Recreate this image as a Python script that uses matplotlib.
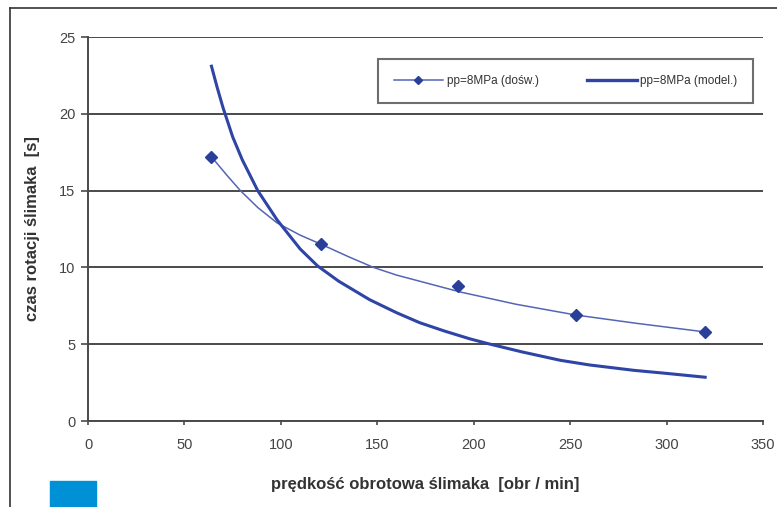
import numpy as np
import matplotlib.pyplot as plt
from matplotlib.lines import Line2D
from matplotlib.patches import Rectangle

plt.rcParams['font.family'] = ['Liberation Sans', 'DejaVu Sans']

# measured points (dośw.)
x_pts = [64, 121, 192, 253, 320]
y_pts = [17.2, 11.5, 8.8, 6.9, 5.8]

x_exp = [64, 72, 79, 88, 98, 110, 121, 135, 148, 160, 172, 193, 222, 253, 285, 320]
y_exp = [17.2, 16.0, 15.0, 13.9, 12.9, 12.1, 11.5, 10.7, 10.0, 9.5, 9.1, 8.4, 7.6, 6.9, 6.35, 5.8]

# model curve
x_mod = [64, 67, 70, 75, 80, 88, 98, 110, 119, 130, 146, 160, 172, 185, 198, 207, 225, 245, 260, 283, 300, 320]
y_mod = [23.1, 21.7, 20.4, 18.5, 17.0, 15.0, 13.1, 11.2, 10.1, 9.1, 7.9, 7.05, 6.4, 5.85, 5.35, 5.05, 4.5, 3.95, 3.65, 3.3, 3.1, 2.85]

xticks = [0, 50, 100, 150, 200, 250, 300, 350]
yticks = [0, 5, 10, 15, 20, 25]

fig = plt.figure(figsize=(7.77, 5.07), dpi=100)
ax = fig.add_axes([0.1133, 0.1696, 0.8687, 0.7574])

thin_c = '#5565B5'
thick_c = '#2E45A5'
mark_c = '#2A3F9A'

ax.set_axisbelow(True)
ax.grid(axis='y', color='#4a4a4a', linewidth=1.4)
ax.plot(x_exp, y_exp, color=thin_c, linewidth=1.1, zorder=3)
ax.plot(x_pts, y_pts, linestyle='none', marker='D', markersize=6.5,
        color=mark_c, zorder=4)
ax.plot(x_mod, y_mod, color=thick_c, linewidth=2.2, zorder=3)

ax.set_xlim(0, 350)
ax.set_ylim(0, 25)
ax.set_xticks(xticks)
ax.set_yticks(yticks)
for s in ['top', 'right']:
    ax.spines[s].set_visible(False)
for s in ['left', 'bottom']:
    ax.spines[s].set_color('#4a4a4a')
    ax.spines[s].set_linewidth(1.4)
ax.tick_params(axis='y', length=5, width=1.2, color='#4a4a4a', pad=4,
               labelsize=10.5, labelcolor='#444444')
ax.tick_params(axis='x', length=3, width=1.2, color='#4a4a4a', pad=9,
               labelsize=10.5, labelcolor='#444444')

ax.set_ylabel('czas rotacji ślimaka  [s]', fontsize=12, fontweight='bold',
              color='#333333', labelpad=14)
ax.set_xlabel('prędkość obrotowa ślimaka  [obr / min]', fontsize=12,
              fontweight='bold', color='#333333', labelpad=18)

handles = [Line2D([], [], color=thin_c, linewidth=1.1, marker='D',
                  markersize=4.5, markerfacecolor=mark_c, markeredgecolor=mark_c),
           Line2D([], [], color=thick_c, linewidth=2.4)]
leg = ax.legend(handles, ['pp=8MPa (dośw.)', 'pp=8MPa (model.)'], ncol=2,
                loc='upper left', bbox_to_anchor=(0.429, 0.942), fontsize=8.5,
                frameon=True, fancybox=False, handlelength=4.2,
                handletextpad=0.3, columnspacing=4.1, borderpad=1.35,
                borderaxespad=0)
leg.get_frame().set_edgecolor('#4a4a4a')
leg.get_frame().set_linewidth(1.5)
for t in leg.get_texts():
    t.set_color('#333333')

# page frame and blue marker square
fig.add_artist(Line2D([10 / 777, 10 / 777], [0, 1 - 8 / 507], color='#333333',
                      linewidth=1.2, transform=fig.transFigure))
fig.add_artist(Line2D([10 / 777, 1], [1 - 8 / 507, 1 - 8 / 507], color='#333333',
                      linewidth=1.2, transform=fig.transFigure))
fig.add_artist(Rectangle((50 / 777, 0), 46 / 777, 26 / 507, color='#0090D6',
                         transform=fig.transFigure))

fig.savefig('out.png', dpi=100)
